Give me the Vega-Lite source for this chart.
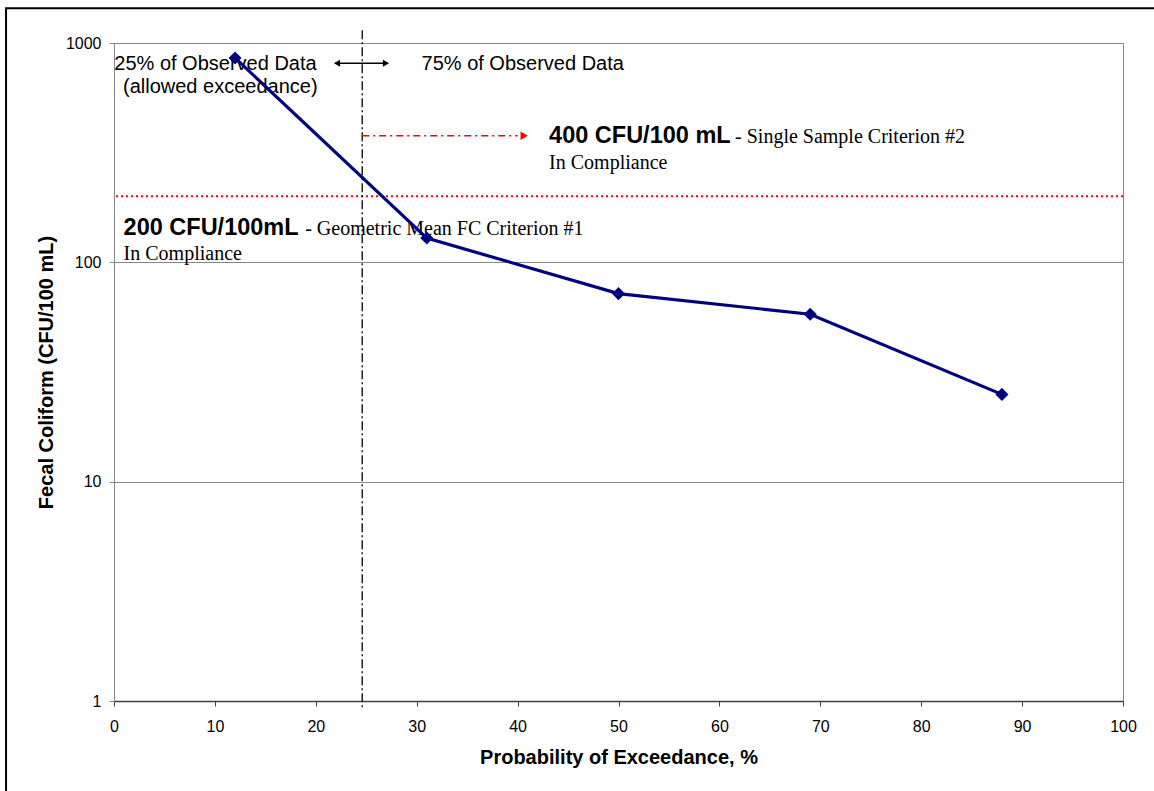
{
  "$schema": "https://vega.github.io/schema/vega-lite/v6.json",
  "width": 1009,
  "height": 658,
  "autosize": {"type": "none"},
  "padding": {"left": 114, "top": 43, "right": 31, "bottom": 90},
  "background": "white",
  "datasets": {
    "obs": [
      {"p": 12, "fc": 855},
      {"p": 31, "fc": 129},
      {"p": 50, "fc": 72},
      {"p": 69, "fc": 58},
      {"p": 88, "fc": 25}
    ],
    "sans": [
      {"t": "25% of Observed Data", "x": 0.03, "y": 756.4},
      {"t": "(allowed exceedance)", "x": 0.89, "y": 591.6},
      {"t": "75% of Observed Data", "x": 30.48, "y": 756.4}
    ],
    "bold": [
      {"t": "400 CFU/100 mL", "x": 43.12, "y": 350},
      {"t": "200 CFU/100mL", "x": 0.95, "y": 133.8}
    ],
    "serif": [
      {"t": "- Single Sample Criterion #2", "x": 61.55, "y": 350},
      {"t": "In Compliance", "x": 43.12, "y": 267.4},
      {"t": "- Geometric Mean FC Criterion #1", "x": 18.95, "y": 133.8},
      {"t": "In Compliance", "x": 0.95, "y": 102.1}
    ]
  },
  "layer": [
    {
      "data": {"values": [{}]},
      "mark": {"type": "rect", "fill": null, "filled": false, "stroke": "black", "strokeWidth": 2},
      "encoding": {
        "x": {"datum": -10.7, "type": "quantitative", "scale": {"domain": [0, 100], "nice": false, "zero": false}},
        "x2": {"datum": 115},
        "y": {"datum": 1439, "type": "quantitative", "scale": {"type": "log", "domain": [1, 1000], "nice": false}},
        "y2": {"datum": 0.1}
      }
    },
    {
      "data": {"values": [{}]},
      "mark": {"type": "rule", "color": "#ff0000", "strokeWidth": 2, "strokeDash": [2, 3]},
      "encoding": {"y": {"datum": 200, "type": "quantitative"}}
    },
    {
      "data": {"values": [{}]},
      "mark": {"type": "rule", "color": "black", "strokeWidth": 1.3, "strokeDash": [9, 3, 2, 3]},
      "encoding": {
        "x": {"datum": 24.6, "type": "quantitative"},
        "y": {"datum": 1142, "type": "quantitative"},
        "y2": {"datum": 0.907}
      }
    },
    {
      "data": {"values": [{}]},
      "mark": {"type": "rule", "color": "#ff0000", "strokeWidth": 1.5, "strokeDash": [7, 4, 2, 4]},
      "encoding": {
        "x": {"datum": 24.6, "type": "quantitative"},
        "x2": {"datum": 40.0},
        "y": {"datum": 377.6, "type": "quantitative"}
      }
    },
    {
      "data": {"values": [{}]},
      "mark": {"type": "point", "shape": "triangle-right", "filled": true, "color": "#ff0000", "size": 70, "opacity": 1},
      "encoding": {
        "x": {"datum": 40.65, "type": "quantitative"},
        "y": {"datum": 377.6, "type": "quantitative"}
      }
    },
    {
      "data": {"values": [{}]},
      "mark": {"type": "rule", "color": "black", "strokeWidth": 1.5},
      "encoding": {
        "x": {"datum": 21.9, "type": "quantitative"},
        "x2": {"datum": 27.1},
        "y": {"datum": 808, "type": "quantitative"}
      }
    },
    {
      "data": {"values": [{}]},
      "mark": {"type": "point", "shape": "triangle-left", "filled": true, "color": "black", "size": 50, "opacity": 1},
      "encoding": {
        "x": {"datum": 22.1, "type": "quantitative"},
        "y": {"datum": 808, "type": "quantitative"}
      }
    },
    {
      "data": {"values": [{}]},
      "mark": {"type": "point", "shape": "triangle-right", "filled": true, "color": "black", "size": 50, "opacity": 1},
      "encoding": {
        "x": {"datum": 26.95, "type": "quantitative"},
        "y": {"datum": 808, "type": "quantitative"}
      }
    },
    {
      "data": {"name": "sans"},
      "mark": {"type": "text", "align": "left", "baseline": "alphabetic", "font": "Liberation Sans", "fontSize": 20, "color": "black"},
      "encoding": {
        "x": {"field": "x", "type": "quantitative"},
        "y": {"field": "y", "type": "quantitative"},
        "text": {"field": "t"}
      }
    },
    {
      "data": {"name": "bold"},
      "mark": {"type": "text", "align": "left", "baseline": "alphabetic", "font": "Liberation Sans", "fontWeight": "bold", "fontSize": 23.5, "color": "black"},
      "encoding": {
        "x": {"field": "x", "type": "quantitative"},
        "y": {"field": "y", "type": "quantitative"},
        "text": {"field": "t"}
      }
    },
    {
      "data": {"name": "serif"},
      "mark": {"type": "text", "align": "left", "baseline": "alphabetic", "font": "Liberation Serif", "fontSize": 20, "color": "black"},
      "encoding": {
        "x": {"field": "x", "type": "quantitative"},
        "y": {"field": "y", "type": "quantitative"},
        "text": {"field": "t"}
      }
    },
    {
      "data": {"name": "obs"},
      "mark": {
        "type": "line",
        "color": "#000080",
        "strokeWidth": 3.2,
        "point": {"shape": "diamond", "filled": true, "size": 170, "color": "#000080", "opacity": 1}
      },
      "encoding": {
        "x": {
          "field": "p",
          "type": "quantitative",
          "axis": {
            "values": [0, 10, 20, 30, 40, 50, 60, 70, 80, 90, 100],
            "title": "Probability of Exceedance, %",
            "grid": false,
            "domainColor": "#404040",
            "domainWidth": 1.5,
            "tickColor": "#404040",
            "tickSize": 5,
            "labelPadding": 12,
            "titleX": 504.5,
            "titleY": 62.5,
            "titleAlign": "center",
            "titleBaseline": "alphabetic"
          }
        },
        "y": {
          "field": "fc",
          "type": "quantitative",
          "axis": {
            "values": [1, 10, 100, 1000],
            "format": "d",
            "title": "Fecal Coliform (CFU/100 mL)",
            "grid": true,
            "gridColor": "#888888",
            "gridWidth": 1,
            "domainColor": "#888888",
            "tickColor": "#888888",
            "tickSize": 5,
            "labelPadding": 8,
            "titleX": -62,
            "titleY": 329,
            "titleAngle": 270,
            "titleAlign": "center",
            "titleBaseline": "alphabetic"
          }
        }
      }
    }
  ],
  "config": {
    "view": {"stroke": "#888888", "strokeWidth": 1},
    "axis": {
      "labelFont": "Liberation Sans",
      "labelFontSize": 16,
      "labelColor": "black",
      "titleFont": "Liberation Sans",
      "titleFontSize": 20,
      "titleFontWeight": "bold",
      "titleColor": "black",
      "labelFlush": false,
      "labelOverlap": false
    }
  }
}
